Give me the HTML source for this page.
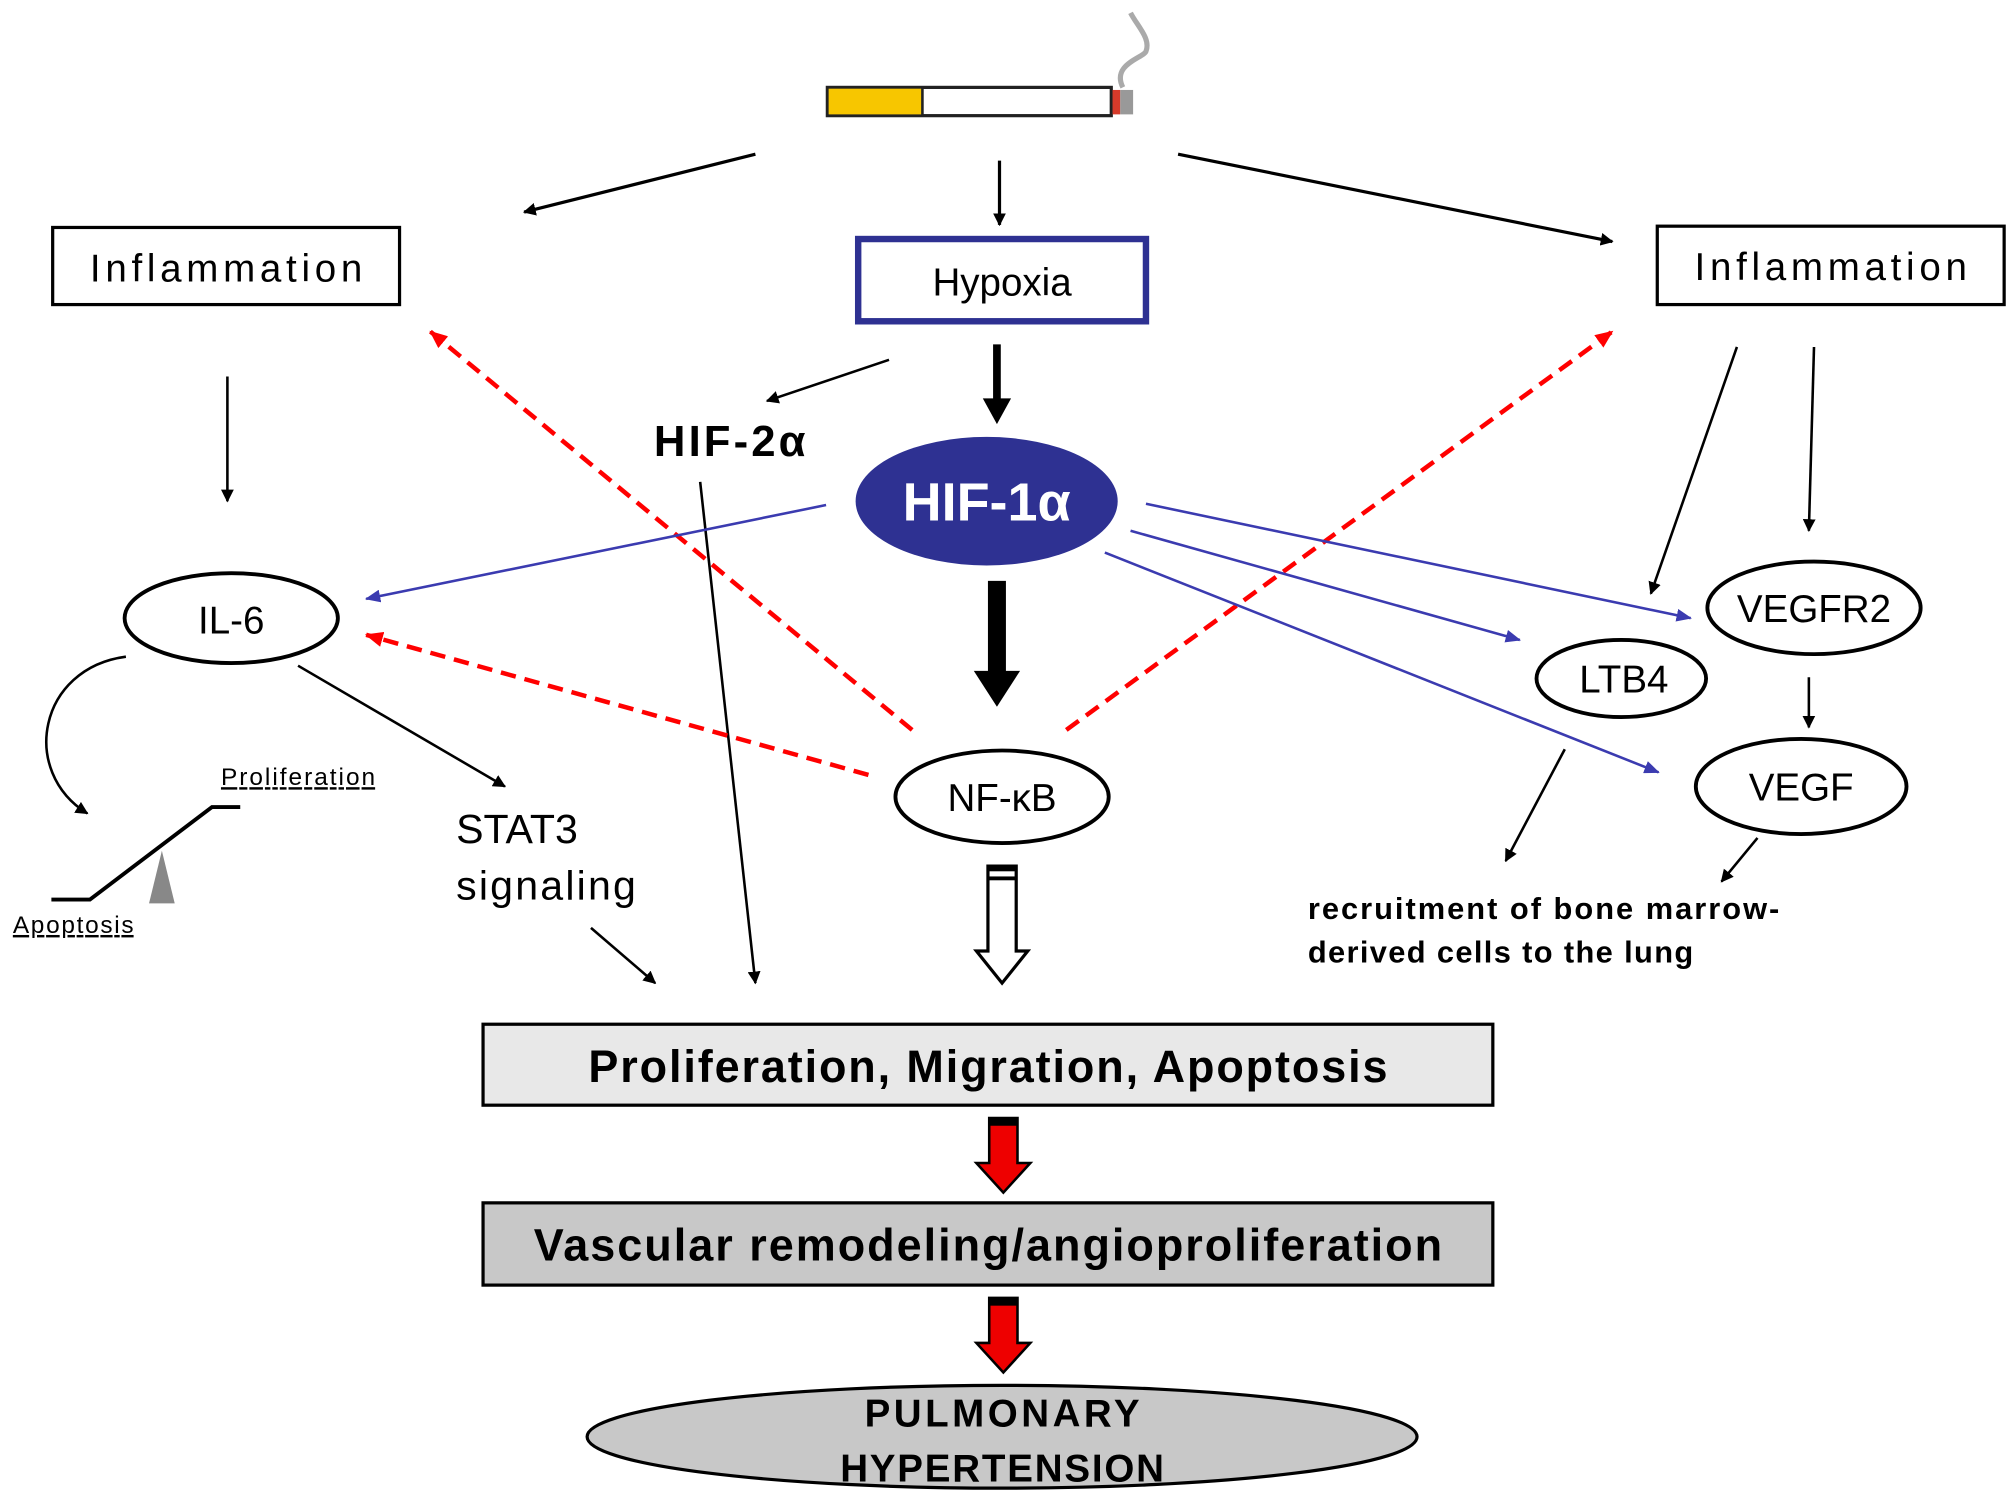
<!DOCTYPE html>
<html><head><meta charset="utf-8"><style>html,body{margin:0;padding:0;background:#fff}svg{display:block}text{font-family:"Liberation Sans",sans-serif}</style></head>
<body>
<svg width="2008" height="1501" viewBox="0 0 1563 1168" preserveAspectRatio="none" xmlns="http://www.w3.org/2000/svg">
<defs>
<marker id="ab" markerWidth="10" markerHeight="10" refX="9" refY="5" orient="auto" markerUnits="userSpaceOnUse"><path d="M0,0 L10,5 L0,10 Z" fill="#000"/></marker>
<marker id="abl" markerWidth="12" markerHeight="10" refX="11" refY="5" orient="auto" markerUnits="userSpaceOnUse"><path d="M0,0 L12,5 L0,10 Z" fill="#3b3bb0"/></marker>
<marker id="ar" markerWidth="14" markerHeight="12" refX="13" refY="6" orient="auto" markerUnits="userSpaceOnUse"><path d="M0,0 L14,6 L0,12 Z" fill="#f00"/></marker>
</defs>
<rect x="644" y="68" width="221" height="22" fill="#fff" stroke="#222" stroke-width="2.5"/>
<rect x="645" y="69" width="73" height="20" fill="#f7c600"/>
<line x1="718" y1="68" x2="718" y2="90" stroke="#222" stroke-width="2"/>
<rect x="866" y="70" width="6" height="19" fill="#d63a2a"/>
<rect x="872" y="70" width="10" height="19" fill="#999"/>
<path d="M874,68 C865,50 890,45 892,40 C896,30 885,20 880,10" fill="none" stroke="#aaa" stroke-width="4"/>
<g stroke="#000" stroke-width="2.5" fill="none" marker-end="url(#ab)">
<line x1="588" y1="120" x2="408" y2="165"/>
<line x1="778" y1="125" x2="778" y2="175"/>
<line x1="917" y1="120" x2="1255" y2="188"/>
</g>
<rect x="41" y="177" width="270" height="60" fill="#fff" stroke="#000" stroke-width="2.5"/>
<text x="176" y="219" font-size="30" text-anchor="middle" textLength="212">Inflammation</text>
<rect x="668" y="186" width="224" height="64" fill="#fff" stroke="#2e3192" stroke-width="5"/>
<text x="780" y="230" font-size="30" text-anchor="middle">Hypoxia</text>
<rect x="1290" y="176" width="270" height="61" fill="#fff" stroke="#000" stroke-width="2.5"/>
<text x="1425" y="218" font-size="30" text-anchor="middle" textLength="212">Inflammation</text>
<line x1="776" y1="268" x2="776" y2="312" stroke="#000" stroke-width="6"/>
<path d="M765,310 L787,310 L776,330 Z" fill="#000"/>
<line x1="776" y1="452" x2="776" y2="525" stroke="#000" stroke-width="14"/>
<path d="M758,522 L794,522 L776,550 Z" fill="#000"/>
<g stroke="#000" stroke-width="2" fill="none" marker-end="url(#ab)">
<line x1="692" y1="280" x2="597" y2="312"/>
<line x1="177" y1="293" x2="177" y2="390"/>
<line x1="545" y1="375" x2="588" y2="765"/>
<line x1="232" y1="518" x2="393" y2="612"/>
<line x1="460" y1="722" x2="510" y2="765"/>
<line x1="1352" y1="270" x2="1285" y2="462"/>
<line x1="1412" y1="270" x2="1408" y2="413"/>
<line x1="1408" y1="527" x2="1408" y2="566"/>
<line x1="1218" y1="583" x2="1172" y2="670"/>
<line x1="1368" y1="652" x2="1340" y2="686"/>
<path d="M98,511 C30,520 15,600 68,633"/>
</g>
<text x="568" y="355" font-size="34" font-weight="bold" text-anchor="middle" textLength="118">HIF-2α</text>
<ellipse cx="768" cy="390" rx="102" ry="50" fill="#2e3192"/>
<text x="768" y="405" font-size="42" font-weight="bold" fill="#fff" text-anchor="middle">HIF-1α</text>
<g stroke="#f00" stroke-width="3.5" stroke-dasharray="12,7" fill="none" marker-end="url(#ar)">
<line x1="710" y1="568" x2="335" y2="258"/>
<line x1="830" y1="568" x2="1255" y2="258"/>
<line x1="676" y1="603" x2="285" y2="494"/>
</g>
<g stroke="#3b3bb0" stroke-width="2" fill="none" marker-end="url(#abl)">
<line x1="643" y1="393" x2="285" y2="466"/>
<line x1="892" y1="392" x2="1316" y2="481"/>
<line x1="880" y1="413" x2="1183" y2="498"/>
<line x1="860" y1="430" x2="1291" y2="601"/>
</g>
<g fill="#fff" stroke="#000" stroke-width="3">
<ellipse cx="180" cy="481" rx="83" ry="35"/>
<ellipse cx="780" cy="620" rx="83" ry="36"/>
<ellipse cx="1412" cy="473" rx="83" ry="36"/>
<ellipse cx="1262" cy="528" rx="66" ry="30"/>
<ellipse cx="1402" cy="612" rx="82" ry="37"/>
</g>
<g font-size="30" text-anchor="middle">
<text x="180" y="493">IL-6</text>
<text x="780" y="631">NF-κB</text>
<text x="1412" y="484">VEGFR2</text>
<text x="1264" y="539">LTB4</text>
<text x="1402" y="623">VEGF</text>
</g>
<path d="M40,700 L70,700 L165,628 L187,628" fill="none" stroke="#000" stroke-width="3"/>
<path d="M116,703 L136,703 L126,662 Z" fill="#888"/>
<text x="172" y="611" font-size="19" text-decoration="underline" textLength="120">Proliferation</text>
<text x="10" y="726" font-size="19" text-decoration="underline" textLength="94">Apoptosis</text>
<text x="355" y="656" font-size="32">STAT3</text>
<text x="355" y="700" font-size="32" textLength="140">signaling</text>
<path d="M769,674 L791,674 L791,740 L800,740 L780,765 L760,740 L769,740 Z" fill="#fff" stroke="#000" stroke-width="2.5"/>
<rect x="769" y="674" width="22" height="4" fill="#000"/><rect x="769" y="682" width="22" height="3" fill="#000"/>
<text x="1018" y="715" font-size="24" font-weight="bold" textLength="367">recruitment of bone marrow-</text>
<text x="1018" y="749" font-size="24" font-weight="bold" textLength="300">derived cells to the lung</text>
<rect x="376" y="797" width="786" height="63" fill="#e8e8e8" stroke="#000" stroke-width="2.5"/>
<text x="769" y="842" font-size="35" font-weight="bold" text-anchor="middle" textLength="622">Proliferation, Migration, Apoptosis</text>
<path d="M770,870 L792,870 L792,905 L802,905 L781,928 L760,905 L770,905 Z" fill="#e00" stroke="#000" stroke-width="2"/>
<rect x="770" y="870" width="22" height="6" fill="#000"/>
<rect x="376" y="936" width="786" height="64" fill="#c8c8c8" stroke="#000" stroke-width="2.5"/>
<text x="769" y="981" font-size="35" font-weight="bold" text-anchor="middle" textLength="707">Vascular remodeling/angioproliferation</text>
<path d="M770,1010 L792,1010 L792,1045 L802,1045 L781,1068 L760,1045 L770,1045 Z" fill="#e00" stroke="#000" stroke-width="2"/>
<rect x="770" y="1010" width="22" height="6" fill="#000"/>
<ellipse cx="780" cy="1118" rx="323" ry="40" fill="#c8c8c8" stroke="#000" stroke-width="2.5"/>
<text x="780" y="1110" font-size="30" font-weight="bold" text-anchor="middle" textLength="214">PULMONARY</text>
<text x="780" y="1153" font-size="30" font-weight="bold" text-anchor="middle" textLength="252">HYPERTENSION</text>
</svg>
</body></html>
